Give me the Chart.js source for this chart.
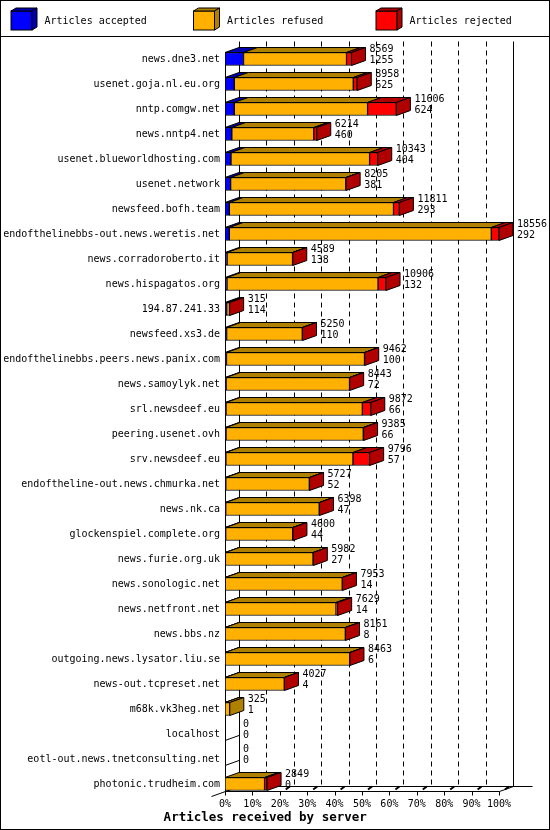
<!DOCTYPE html>
<html lang="en">
<head>
<meta charset="UTF-8">
<title>Articles received by server</title>
<script src="https://cdn.jsdelivr.net/npm/chart.js"></script>
<style>
  html, body { margin: 0; padding: 0; background: #fff; }
  canvas { display: block; }
</style>
</head>
<body>
<canvas id="grafico" width="550" height="830"></canvas>
<script>
// dados
const servers = [
  "news.dne3.net", "usenet.goja.nl.eu.org", "nntp.comgw.net", "news.nntp4.net",
  "usenet.blueworldhosting.com", "usenet.network", "newsfeed.bofh.team",
  "endofthelinebbs-out.news.weretis.net", "news.corradoroberto.it", "news.hispagatos.org",
  "194.87.241.33", "newsfeed.xs3.de", "endofthelinebbs.peers.news.panix.com",
  "news.samoylyk.net", "srl.newsdeef.eu", "peering.usenet.ovh", "srv.newsdeef.eu",
  "endoftheline-out.news.chmurka.net", "news.nk.ca", "glockenspiel.complete.org",
  "news.furie.org.uk", "news.sonologic.net", "news.netfront.net", "news.bbs.nz",
  "outgoing.news.lysator.liu.se", "news-out.tcpreset.net", "m68k.vk3heg.net",
  "localhost", "eotl-out.news.tnetconsulting.net", "photonic.trudheim.com"
];
const totals = [8569, 8958, 11606, 6214, 10343, 8205, 11811, 18556, 4589, 10906,
  315, 5250, 9462, 8443, 9872, 9385, 9796, 5727, 6398, 4600,
  5982, 7953, 7629, 8161, 8463, 4027, 325, 0, 0, 2849];
const accepted = [1255, 625, 624, 460, 404, 381, 293, 292, 138, 132,
  114, 110, 100, 72, 66, 66, 57, 52, 47, 44,
  27, 14, 14, 8, 6, 4, 1, 0, 0, 0];
// estimados pela largura do vermelho
const rejected = [340, 270, 1950, 200, 550, 20, 400, 520, 15, 540,
  10, 15, 15, 10, 570, 20, 1130, 15, 15, 15,
  15, 10, 110, 10, 10, 10, 0, 0, 0, 170];
const refused = totals.map((t, i) => t - accepted[i] - rejected[i]);
const xTicks = [0, 10, 20, 30, 40, 50, 60, 70, 80, 90, 100];
const seriesNames = ["Articles accepted", "Articles refused", "Articles rejected"];

const FONT = "'DejaVu Sans Mono', monospace";
const fronts = ["#0000ff", "#ffb000", "#ff0000"];
const tops = ["#0000b0", "#b08000", "#b00000"];
const DX = 14, DY = 5, BAR = 13;

const maxTotal = Math.max(...totals);
const pct = v => v / maxTotal * 100;
const series = [accepted, refused, rejected];

function poly(ctx, pts, fill) {
  ctx.beginPath();
  ctx.moveTo(pts[0][0], pts[0][1]);
  for (let k = 1; k < pts.length; k++) ctx.lineTo(pts[k][0], pts[k][1]);
  ctx.closePath();
  if (fill) { ctx.fillStyle = fill; ctx.fill(); }
  ctx.stroke();
}
function line(ctx, x1, y1, x2, y2) {
  ctx.beginPath(); ctx.moveTo(x1, y1); ctx.lineTo(x2, y2); ctx.stroke();
}
const c = v => Math.round(v) + 0.5;

const caixa3d = {
  id: "caixa3d",
  beforeDatasetsDraw(chart) {
    const ctx = chart.ctx, xs = chart.scales.x, ys = chart.scales.y, area = chart.chartArea;
    const x0 = xs.getPixelForValue(0), x100 = xs.getPixelForValue(100);
    const floorFront = ys.getPixelForValue(servers.length - 1) + BAR / 2;
    const floorBack = floorFront - DY;
    const top = area.top - 5;
    const firstTop = ys.getPixelForValue(0) - BAR / 2;
    ctx.save();
    ctx.strokeStyle = "#000"; ctx.lineWidth = 1;
    // parede do fundo
    ctx.setLineDash([5, 4]);
    xTicks.slice(1, -1).forEach(v => {
      const x = c(xs.getPixelForValue(v) + DX);
      line(ctx, x, top, x, floorBack);
    });
    ctx.setLineDash([]);
    line(ctx, c(x0 + DX), top, c(x0 + DX), c(floorBack));
    line(ctx, c(x100 + DX), top, c(x100 + DX), c(floorBack));
    // chão
    line(ctx, c(x0 + DX), c(floorBack), c(x100 + DX + 19), c(floorBack));
    line(ctx, c(x0), c(floorFront), c(x100), c(floorFront));
    line(ctx, c(x100), c(floorFront), c(x100 + DX), c(floorBack));
    line(ctx, c(x0 + DX), c(floorBack), c(x0 - DX), c(floorFront + DY));
    line(ctx, c(x0), c(firstTop), c(x0), c(floorFront));
    xTicks.forEach(v => {
      const x = xs.getPixelForValue(v);
      line(ctx, c(x), c(floorFront), c(x), c(floorFront + 4));
      if (v > 0) {
        ctx.lineWidth = 2;
        line(ctx, x + 6, floorFront - 1, x + 10, floorFront - 4);
        ctx.lineWidth = 1;
      }
    });
    ctx.restore();
  },
  afterDatasetsDraw(chart) {
    const ctx = chart.ctx, xs = chart.scales.x, ys = chart.scales.y;
    const x0 = xs.getPixelForValue(0);
    ctx.save();
    ctx.strokeStyle = "#000"; ctx.lineWidth = 1;
    servers.forEach((s, i) => {
      const yc = ys.getPixelForValue(i);
      const yt = yc - BAR / 2, yb = yc + BAR / 2;
      let last = -1, right = x0;
      series.forEach((arr, d) => {
        if (arr[i] <= 0) return;
        const el = chart.getDatasetMeta(d).data[i];
        const p = el.getProps(["x", "base"], true);
        const l = Math.min(p.x, p.base), r = Math.max(p.x, p.base);
        poly(ctx, [[l, yt], [r, yt], [r + DX, yt - DY], [l + DX, yt - DY]], tops[d]);
        last = d; right = r;
      });
      if (last >= 0) {
        poly(ctx, [[right, yt], [right + DX, yt - DY], [right + DX, yb - DY], [right, yb]], tops[last]);
      } else {
        line(ctx, x0, yb, x0 + DX, yb - DY);
      }
      ctx.fillStyle = "#000";
      ctx.font = "10px " + FONT;
      ctx.textAlign = "left"; ctx.textBaseline = "middle";
      ctx.fillText(String(totals[i]), right + DX + 4, yt - 3);
      ctx.fillText(String(accepted[i]), right + DX + 4, yt + 8);
    });
    ctx.restore();
  },
  afterDraw(chart) {
    const ctx = chart.ctx;
    ctx.save();
    ctx.strokeStyle = "#000"; ctx.lineWidth = 1;
    // legenda
    seriesNames.forEach((name, k) => {
      const bx = 11 + k * 182.5, by = 11, w = 21, h = 19, dx = 5, dy = 3;
      ctx.fillStyle = fronts[k];
      ctx.fillRect(bx, by, w, h);
      ctx.strokeRect(bx, by, w, h);
      poly(ctx, [[bx, by], [bx + w, by], [bx + w + dx, by - dy], [bx + dx, by - dy]], tops[k]);
      poly(ctx, [[bx + w, by], [bx + w + dx, by - dy], [bx + w + dx, by + h - dy], [bx + w, by + h]], tops[k]);
      ctx.fillStyle = "#000";
      ctx.font = "10px " + FONT;
      ctx.textAlign = "left"; ctx.textBaseline = "middle";
      ctx.fillText(name, bx + 33.5, 21);
    });
    line(ctx, 0, 36.5, 550, 36.5);
    ctx.strokeRect(0.5, 0.5, 549, 829);
    ctx.restore();
  }
};

new Chart(document.getElementById("grafico").getContext("2d"), {
  type: "bar",
  data: {
    labels: servers,
    datasets: series.map((arr, d) => ({
      label: seriesNames[d],
      data: arr.map(pct),
      backgroundColor: fronts[d],
      borderColor: "#000",
      borderWidth: 1,
      borderSkipped: false,
      barThickness: BAR
    }))
  },
  options: {
    indexAxis: "y",
    responsive: false,
    animation: false,
    devicePixelRatio: 1,
    layout: { padding: { left: 4, right: 23.6, top: 46.5, bottom: 4.5 } },
    plugins: {
      legend: { display: false },
      tooltip: { enabled: false },
      title: {
        display: true,
        position: "bottom",
        text: "Articles received by server",
        color: "#000",
        font: { family: FONT, size: 12.5, weight: "bold" },
        padding: { top: 0, bottom: 0 }
      }
    },
    scales: {
      x: {
        type: "linear",
        stacked: true,
        min: 0,
        max: 110,
        afterBuildTicks: s => { s.ticks = xTicks.map(v => ({ value: v })); },
        afterFit: s => { s.height = 14; },
        grid: { display: false, drawTicks: false },
        border: { display: false },
        ticks: {
          callback: v => v + "%",
          color: "#000",
          font: { family: FONT, size: 10 },
          padding: 1.5,
          maxRotation: 0,
          autoSkip: false
        }
      },
      y: {
        stacked: true,
        afterFit: s => { s.width = 221; },
        grid: { display: false, drawTicks: false },
        border: { display: false },
        ticks: {
          color: "#000",
          font: { family: FONT, size: 10 },
          padding: 5,
          autoSkip: false
        }
      }
    }
  },
  plugins: [caixa3d]
});
</script>
</body>
</html>
